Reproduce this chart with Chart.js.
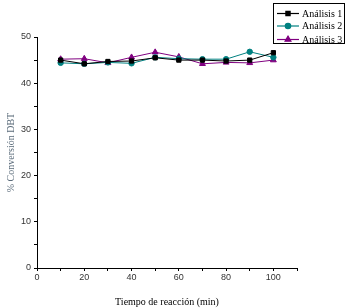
<!DOCTYPE html>
<html>
<head>
<meta charset="utf-8">
<script src="https://cdn.jsdelivr.net/npm/chart.js@4/dist/chart.umd.min.js"></script>
<style>
  html, body { margin: 0; padding: 0; background: #fff; }
  #wrap { width: 348px; height: 308px; position: relative; }
</style>
</head>
<body>
<div id="wrap"><canvas id="c"></canvas></div>
<script>
(function () {
    "use strict";

    // Data
    const tiempos = [10, 20, 30, 40, 50, 60, 70, 80, 90, 100];
    const analisis1 = [45.0, 44.2, 44.7, 44.8, 45.5, 45.0, 45.0, 44.8, 45.0, 46.6];
    const analisis2 = [44.4, 44.2, 44.5, 44.3, 45.6, 45.3, 45.2, 45.2, 46.8, 45.6];
    const analisis3 = [45.2, 45.3, 44.4, 45.6, 46.7, 45.7, 44.2, 44.5, 44.4, 45.0];
    const etiquetas = ["Análisis 1", "Análisis 2", "Análisis 3"];

    const serif = "\"Liberation Serif\", \"DejaVu Serif\", serif";
    const sans = "\"Liberation Sans\", Arial, sans-serif";

    const series = [
        { data: analisis1, color: "#000000", style: "rect", r: 3 },
        { data: analisis2, color: "#008080", style: "circle", r: 2.7 },
        { data: analisis3, color: "#800080", style: "triangle", r: 3.4 },
    ];

    // Boxed legend in the top right corner
    const boxLegend = {
        id: "boxLegend",
        afterDraw(chart) {
            const ctx = chart.ctx;
            const x0 = 273.5, y0 = 3.5, w = 71, h = 40;
            ctx.save();
            ctx.fillStyle = "#fff";
            ctx.fillRect(x0, y0, w, h);
            ctx.strokeStyle = "#000";
            ctx.lineWidth = 1;
            ctx.strokeRect(x0, y0, w, h);
            const rows = [13.5, 26, 39.5];
            chart.data.datasets.forEach((ds, i) => {
                const y = rows[i];
                ctx.strokeStyle = ds.borderColor;
                ctx.fillStyle = ds.borderColor;
                ctx.lineWidth = 1.2;
                ctx.beginPath();
                ctx.moveTo(277, y);
                ctx.lineTo(299, y);
                ctx.stroke();
                Chart.helpers.drawPoint(ctx, {
                    pointStyle: ds.pointStyle,
                    radius: ds.pointRadius,
                    borderWidth: 1,
                }, 288, y);
                ctx.font = "10px " + serif;
                ctx.textBaseline = "middle";
                ctx.textAlign = "left";
                ctx.fillStyle = "#000";
                ctx.fillText(ds.label, 302, y + 0.5);
            });
            ctx.restore();
        },
    };

    const ctx = document.getElementById("c").getContext("2d");

    new Chart(ctx, {
        type: "line",
        data: {
            datasets: series.map((s, i) => ({
                label: etiquetas[i],
                data: tiempos.map((t, j) => ({ x: t, y: s.data[j] })),
                borderColor: s.color,
                backgroundColor: s.color,
                pointBackgroundColor: s.color,
                pointBorderColor: s.color,
                pointStyle: s.style,
                pointRadius: s.r,
                borderWidth: 1,
                tension: 0,
            })),
        },
        options: {
            responsive: true,
            maintainAspectRatio: false,
            animation: false,
            layout: {
                padding: { top: 37, right: 51, left: 0, bottom: 0 },
            },
            plugins: {
                legend: { display: false },
                tooltip: { enabled: false },
            },
            scales: {
                x: {
                    type: "linear",
                    min: 0,
                    max: 110,
                    ticks: {
                        stepSize: 10,
                        color: "#333",
                        font: { family: sans, size: 9 },
                        padding: 1,
                        maxRotation: 0,
                        callback: (v) => (v % 20 === 0 && v <= 100 ? v : ""),
                    },
                    grid: {
                        drawOnChartArea: false,
                        drawTicks: true,
                        tickLength: 3,
                        tickColor: "#000",
                    },
                    border: { display: true, color: "#000", width: 1 },
                    title: {
                        display: true,
                        text: "Tiempo de reacción (min)",
                        color: "#000",
                        font: { family: serif, size: 10 },
                        padding: { top: 7, bottom: 0 },
                    },
                    afterFit(scale) {
                        scale.height = 40;
                    },
                },
                y: {
                    min: 0,
                    max: 50,
                    ticks: {
                        stepSize: 5,
                        color: "#333",
                        font: { family: sans, size: 9 },
                        padding: 3,
                        callback: (v) => (v % 10 === 0 ? v : ""),
                    },
                    grid: {
                        drawOnChartArea: false,
                        drawTicks: true,
                        tickLength: 3,
                        tickColor: "#000",
                    },
                    border: { display: true, color: "#000", width: 1 },
                    title: {
                        display: true,
                        text: "% Conversión DBT",
                        color: "#5a6b7a",
                        font: { family: serif, size: 10 },
                        padding: { top: 5, bottom: 0 },
                    },
                    afterFit(scale) {
                        scale.width = 37;
                    },
                },
            },
        },
        plugins: [boxLegend],
    });
})();
</script>
</body>
</html>
